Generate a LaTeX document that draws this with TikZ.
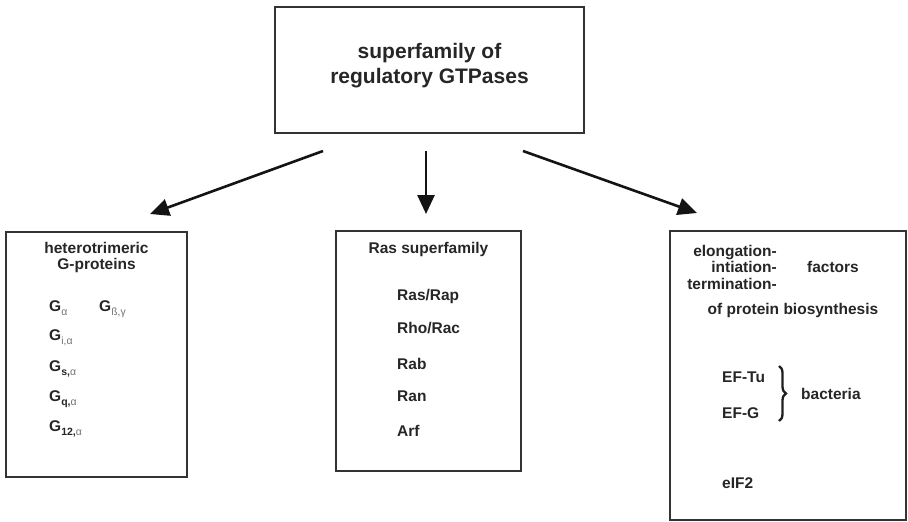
\documentclass[tikz,border=0pt]{standalone}
\usepackage{fontspec}
\setmainfont{Liberation Sans}
\usetikzlibrary{arrows.meta,decorations.pathreplacing}
\newcommand{\gs}[2]{G\raisebox{-4.5pt}{\fontsize{10.5}{10.5}\selectfont #1{\mdseries\color{black!55}#2}}}
\begin{document}
\begin{tikzpicture}[x=1pt,y=-1pt,
  box/.style={draw=black!80,line width=2pt,rectangle,inner sep=0pt},
  arr/.style={line width=2.6pt,draw=black!92,-{Triangle[length=19pt,width=17pt]}},
  txt/.style={font=\fontsize{15.5}{16.5}\selectfont\bfseries,text=black!85,inner sep=0pt},
  item/.style={txt,anchor=base west},
]
\useasboundingbox (0,0) rectangle (908,522);
% boxes
\node[box,minimum width=309pt,minimum height=126pt] (top) at (429.5,70) {};
\node[txt,font=\fontsize{21}{25}\selectfont\bfseries,align=center] (toptxt) at (429.5,66) {superfamily of\\regulatory GTPases};
\node[box,minimum width=181pt,minimum height=245pt] (hg) at (96.5,354.5) {};
\node[box,minimum width=185pt,minimum height=240pt] (ras) at (428.5,351) {};
\node[box,minimum width=236pt,minimum height=289pt] (ef) at (788,375.5) {};
% arrows
\coordinate (a1s) at (323,151); \coordinate (a1e) at (150,214);
\coordinate (a2s) at (426,151); \coordinate (a2e) at (426,214);
\coordinate (a3s) at (523,151); \coordinate (a3e) at (697,213);
\draw[arr] (a1s) -- (a1e);
\draw[arr] (a2s) -- (a2e);
\draw[arr] (a3s) -- (a3e);
% left box
\node[txt,align=center] (hgt) at (96.5,257.5) {heterotrimeric\\G-proteins};
\node[item] (ga) at (49,311) {\gs{}{α}};
\node[item] (gbg) at (99,311) {\gs{}{ß,γ}};
\node[item] (gi) at (49,340) {\gs{}{i,α}};
\node[item] (gsa) at (49,371) {\gs{s,}{α}};
\node[item] (gq) at (49,401) {\gs{q,}{α}};
\node[item] (g12) at (49,431) {\gs{12,}{α}};
% middle box
\node[txt] (rast) at (428.5,249) {Ras superfamily};
\node[item] (r1) at (397,300) {Ras/Rap};
\node[item] (r2) at (397,333) {Rho/Rac};
\node[item] (r3) at (397,369) {Rab};
\node[item] (r4) at (397,401) {Ran};
\node[item] (r5) at (397,436) {Arf};
% right box
\node[txt,align=right,anchor=east] (eit) at (777,267) {elongation-\\intiation-\\termination-};
\node[txt] (fac) at (833,267) {factors};
\node[txt] (opb) at (793,310) {of protein biosynthesis};
\node[item] (eftu) at (722,382.5) {EF-Tu};
\node[item] (efg) at (722,418.5) {EF-G};
\coordinate (br1) at (779,366); \coordinate (br2) at (779,421);
\draw[decorate,decoration={brace,amplitude=7pt},line width=2.3pt,black!88] (br1) -- (br2);
\node[txt,anchor=west] (bac) at (801,394) {bacteria};
\node[item] (eif) at (722,488.5) {eIF2};
\end{tikzpicture}
\end{document}
